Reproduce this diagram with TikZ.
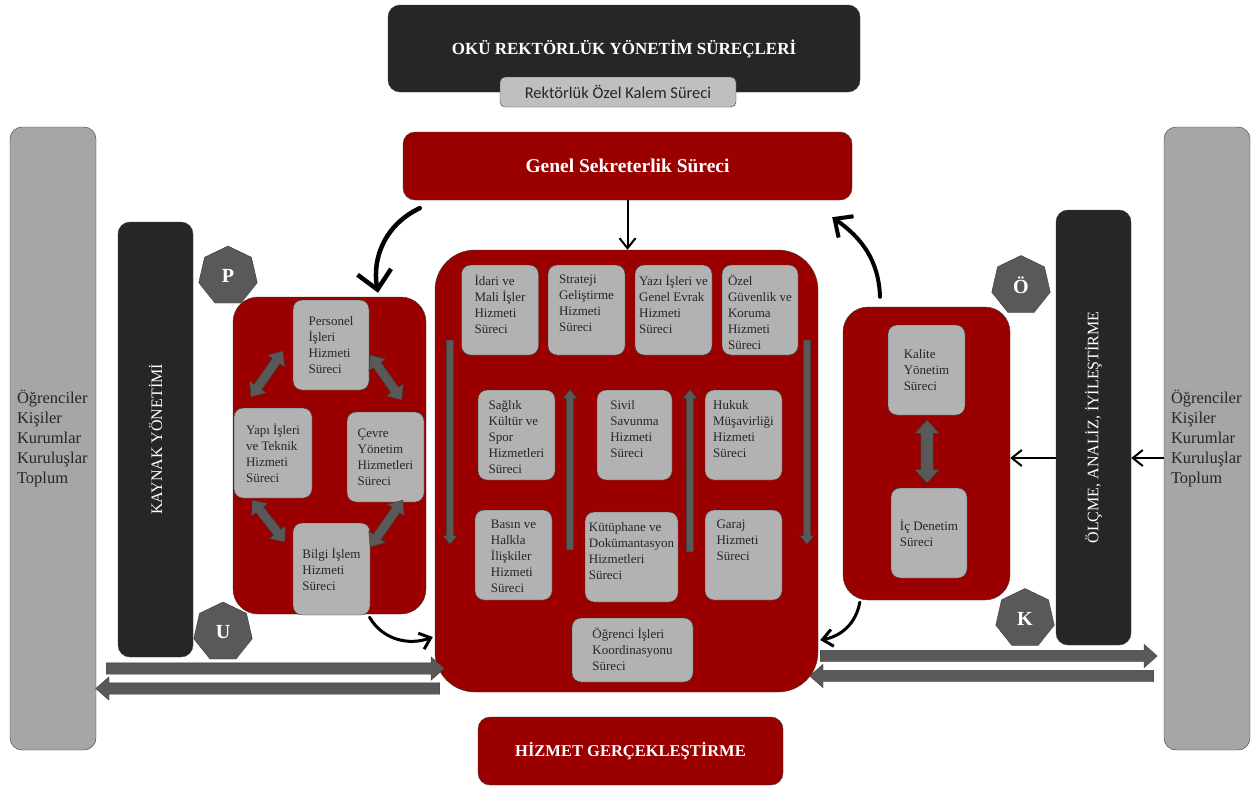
\documentclass[tikz,border=0pt]{standalone}
\usepackage{fontspec}
\setmainfont{Liberation Serif}
\newfontfamily\kalemfont{Carlito}
\usetikzlibrary{shapes.geometric,shapes.arrows,arrows.meta}

\definecolor{okured}{HTML}{9A0000}
\definecolor{darkbox}{HTML}{262626}
\definecolor{sidegray}{HTML}{A6A6A6}
\definecolor{procgray}{HTML}{B2B2B2}
\definecolor{kalemgray}{HTML}{BFBFBF}
\definecolor{hepgray}{HTML}{595959}
\definecolor{edgegray}{HTML}{3A3A3A}
\definecolor{textdark}{HTML}{262626}

\begin{document}
\begin{tikzpicture}[x=1pt,y=-1pt,
  every node/.style={inner sep=0pt},
  sidebox/.style={draw=edgegray, fill=sidegray, rounded corners=12pt, minimum width=86, minimum height=623, text width=72, align=left, text=textdark, font=\fontsize{16.5}{20}\selectfont},
  darkbar/.style={draw=edgegray, fill=darkbox, rounded corners=12pt, rotate=90, minimum width=435, minimum height=75, text=white, font=\fontsize{16}{19}\selectfont},
  redbox/.style={draw=edgegray, fill=okured, text=white},
  hepta/.style={regular polygon, regular polygon sides=7, minimum size=60, draw=edgegray, fill=hepgray, text=white, font=\bfseries\fontsize{20}{24}\selectfont},
  proc/.style={draw=edgegray, fill=procgray, rounded corners=9pt, align=left, text=textdark, font=\fontsize{13}{16}\selectfont},
  toptxt/.style={anchor=north, yshift=-10pt, align=left, text=textdark, font=\fontsize{13}{16}\selectfont},
  fatarrow/.style={single arrow, draw=edgegray, fill=hepgray, inner xsep=0pt, inner ysep=5.5pt, single arrow head extend=6pt, single arrow tip angle=83, minimum width=1pt},
  slimarrow/.style={single arrow, draw=edgegray, fill=hepgray, inner xsep=0pt, inner ysep=3.5pt, single arrow head extend=3.5pt, single arrow tip angle=80, minimum width=1pt},
  twoway/.style={double arrow, draw=edgegray, fill=hepgray, inner xsep=0pt, inner ysep=4.5pt, double arrow head extend=5.5pt, double arrow tip angle=80, minimum width=1pt},
  curvebig/.style={line width=4.5pt, line cap=round, -{Straight Barb[length=18pt,width=34pt]}},
  curvemid/.style={line width=4pt, line cap=round, -{Straight Barb[length=14pt,width=26pt]}},
  curvethin/.style={line width=3pt, line cap=round, -{Straight Barb[length=10pt,width=17pt]}},
  straightarr/.style={line width=2pt, -{Straight Barb[length=10pt,width=16pt]}}]

\useasboundingbox (0,0) rectangle (1255,787);

% top of the hierarchy
\node[redbox, fill=darkbox, rounded corners=12pt, minimum width=472, minimum height=87, font=\bfseries\fontsize{17}{20}\selectfont] (rek) at (624,48.5) {OKÜ REKTÖRLÜK YÖNETİM SÜREÇLERİ};
\node[draw=edgegray, fill=kalemgray, rounded corners=5pt, minimum width=236, minimum height=30, text=textdark, font=\kalemfont\fontsize{16.5}{19}\selectfont] (ozk) at (618,92) {Rektörlük Özel Kalem Süreci};
\node[redbox, rounded corners=12pt, minimum width=449, minimum height=68, font=\bfseries\fontsize{19.5}{23}\selectfont] (gs) at (627.5,166) {Genel Sekreterlik Süreci};
\node[redbox, rounded corners=12pt, minimum width=305, minimum height=68, font=\bfseries\fontsize{16.5}{20}\selectfont] (hiz) at (630.5,751) {HİZMET GERÇEKLEŞTİRME};

% stakeholders and side bars
\node[sidebox] (lg) at (53,438.5) {Öğrenciler\\Kişiler\\Kurumlar\\Kuruluşlar\\Toplum};
\node[sidebox] (rg) at (1207,438.5) {Öğrenciler\\Kişiler\\Kurumlar\\Kuruluşlar\\Toplum};
\node[darkbar] (kay) at (155.5,439.5) {KAYNAK YÖNETİMİ};
\node[darkbar] (olc) at (1093.5,427.5) {ÖLÇME, ANALİZ, İYİLEŞTİRME};

% process groups
\node[redbox, rounded corners=25pt, minimum width=193, minimum height=317] (lbox) at (329.5,455.5) {};
\node[redbox, rounded corners=40pt, minimum width=383, minimum height=442] (cen) at (626.5,471) {};
\node[redbox, rounded corners=25pt, minimum width=167, minimum height=293] (rbox) at (926.5,453.5) {};

% resource processes
\node[proc, minimum width=76, minimum height=90] (per) at (331,345) {Personel\\İşleri\\Hizmeti\\Süreci};
\node[proc, minimum width=78, minimum height=90] (yap) at (273,453) {Yapı İşleri\\ve Teknik\\Hizmeti\\Süreci};
\node[proc, minimum width=77, minimum height=90] (cev) at (385.5,457) {Çevre\\Yönetim\\Hizmetleri\\Süreci};
\node[proc, minimum width=77, minimum height=92] (bil) at (331.5,569) {Bilgi İşlem\\Hizmeti\\Süreci};
\node[twoway, rotate=55, minimum height=56] (d1) at (267,374) {};
\node[twoway, rotate=-55, minimum height=55] (d2) at (386,377.5) {};
\node[twoway, rotate=-52, minimum height=53] (d3) at (268.5,521) {};
\node[twoway, rotate=55, minimum height=57] (d4) at (386.5,523.5) {};

% service processes
\node[proc, minimum width=77, minimum height=90, label={[toptxt]north:İdari ve\\Mali İşler\\Hizmeti\\Süreci}] (idari) at (500,310) {};
\node[proc, minimum width=77, minimum height=90, label={[toptxt]north:Strateji\\Geliştirme\\Hizmeti\\Süreci}] (strat) at (586.5,310) {};
\node[proc, minimum width=77, minimum height=90, label={[toptxt]north:Yazı İşleri ve\\Genel Evrak\\Hizmeti\\Süreci}] (yazi) at (673.5,310) {};
\node[proc, minimum width=76, minimum height=90, label={[toptxt]north:Özel\\Güvenlik ve\\Koruma\\Hizmeti\\Süreci}] (ozel) at (760,310) {};
\node[proc, minimum width=77, minimum height=90, label={[toptxt]north:Sağlık\\Kültür ve\\Spor\\Hizmetleri\\Süreci}] (sag) at (516.5,435) {};
\node[proc, minimum width=75, minimum height=90, label={[toptxt]north:Sivil\\Savunma\\Hizmeti\\Süreci}] (sivil) at (634.5,435) {};
\node[proc, minimum width=77, minimum height=90, label={[toptxt]north:Hukuk\\Müşavirliği\\Hizmeti\\Süreci}] (hukuk) at (743.5,435) {};
\node[proc, minimum width=77, minimum height=90, label={[toptxt]north:Basın ve\\Halkla\\İlişkiler\\Hizmeti\\Süreci}] (basin) at (513.5,555) {};
\node[proc, minimum width=93, minimum height=90, label={[toptxt]north:Kütüphane ve\\Dokümantasyon\\Hizmetleri\\Süreci}] (kutup) at (631.5,557) {};
\node[proc, minimum width=77, minimum height=90, label={[toptxt, xshift=-6pt]north:Garaj\\Hizmeti\\Süreci}] (garaj) at (743.5,555) {};
\node[proc, minimum width=121, minimum height=64, label={[toptxt]north:Öğrenci İşleri\\Koordinasyonu\\Süreci}] (ogr) at (632.5,650) {};
\node[slimarrow, rotate=-90, minimum height=204] (ca1) at (450,440) {};
\node[slimarrow, rotate=90, minimum height=160] (ca2) at (570,472) {};
\node[slimarrow, rotate=90, minimum height=162] (ca3) at (690,473) {};
\node[slimarrow, rotate=-90, minimum height=204] (ca4) at (807,440) {};

% measurement processes
\node[proc, minimum width=77, minimum height=90] (kal) at (926.5,370) {Kalite\\Yönetim\\Süreci};
\node[proc, minimum width=76, minimum height=90] (icd) at (929,533) {İç Denetim\\Süreci};
\node[twoway, rotate=90, minimum height=63, inner ysep=6pt, double arrow head extend=6pt, double arrow tip angle=85] (d5) at (927,451.5) {};

% cycle letters
\node[hepta] (hp) at (228,276) {P};
\node[hepta] (hu) at (223,632) {U};
\node[hepta] (ho) at (1021,285.5) {Ö};
\node[hepta] (hk) at (1025,618.5) {K};

% wide flows at the bottom
\node[fatarrow, minimum height=338] (br1) at (272,668.5) {};
\node[fatarrow, rotate=180, minimum height=344] (bl1) at (271,688.5) {};
\node[fatarrow, minimum height=337] (br2) at (985.5,656) {};
\node[fatarrow, rotate=180, minimum height=344] (bl2) at (985,676) {};

% connectors
\draw[straightarr] (gs.south) -- (gs.south |- cen.north);
\draw[curvebig] ([shift={(17,8)}]gs.south west) to[out=205,in=100] ([shift={(48.5,-4)}]lbox.north);
\draw[curvemid] ([shift={(-46.5,-10)}]rbox.north) to[out=92,in=-35] ([shift={(-20,17)}]gs.south east);
\draw[curvethin] ([shift={(40,3)}]lbox.south) to[out=-60,in=200] ([shift={(-2,166)}]cen.west);
\draw[curvethin] ([shift={(17,2)}]rbox.south west) to[out=-100,in=10] ([shift={(2,169)}]cen.east);
\draw[straightarr] ([shift={(0,30.5)}]olc.north) -- ([shift={(0,4.5)}]rbox.east);
\draw[straightarr] ([shift={(0,19.5)}]rg.west) -- ([shift={(0,30.5)}]olc.south);

\end{tikzpicture}
\end{document}
